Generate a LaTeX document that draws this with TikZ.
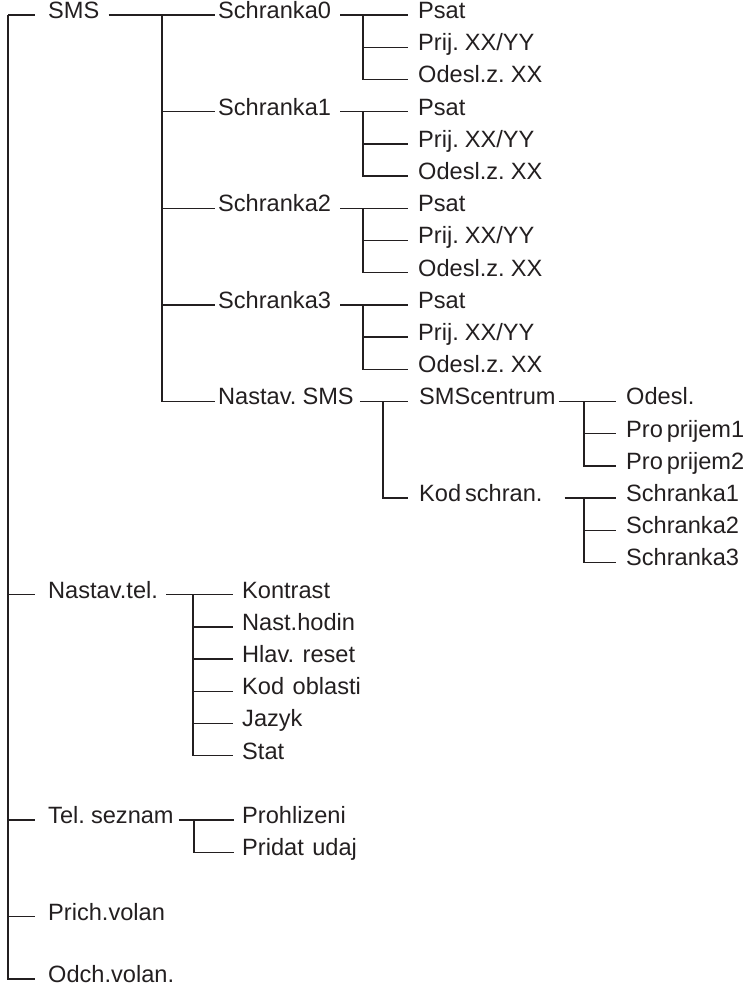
\documentclass[tikz,border=0pt]{standalone}
\usepackage{fontspec}
\setmainfont{Liberation Sans}[WordSpace=0.6]
\usepackage{tikz}
\usetikzlibrary{calc}
\definecolor{ink}{HTML}{231F20}

\tikzset{
  item/.style={anchor=west,inner sep=0pt,text height=0.716em,text depth=0pt,text=ink},
  link/.style={draw=ink,line width=1.4pt}
}
\newcommand{\gap}{\hspace{0.36em}}

\begin{document}
\begin{tikzpicture}[x=1pt,y=-1pt,font=\fontsize{23.6}{28}\selectfont]
  \useasboundingbox (0,0) rectangle (755,994);
  % hlavni menu
  \coordinate (root) at (8,15);
  \node[item] (sms) at (48,15) {SMS};
  \node[item] (nasttel) at (48,{15+32.2*18}) {Nastav.tel.};
  \node[item] (telsez) at (48,{15+32.2*25}) {Tel. seznam};
  \node[item] (prich) at (48,{15+32.2*28}) {Prich.volan};
  \node[item] (odch) at (48,979) {Odch.volan.};
  \draw[link,shorten >=13pt] (root) -- (sms.west);
  \draw[link,shorten >=13pt] (root) |- (odch.west);
  \draw[link,shorten >=13pt] (root |- nasttel.west) -- (nasttel.west);
  \draw[link,shorten >=13pt] (root |- telsez.west) -- (telsez.west);
  \draw[link,shorten >=13pt] (root |- prich.west) -- (prich.west);

  % SMS
  \coordinate (smsfork) at (162,15);
  \node[item] (box0) at (218,15) {Schranka0};
  \node[item] (box1) at (218,{15+32.2*3}) {Schranka1};
  \node[item] (box2) at (218,{15+32.2*6}) {Schranka2};
  \node[item] (box3) at (218,{15+32.2*9}) {Schranka3};
  \node[item] (nsms) at (218,{15+32.2*12}) {Nastav. SMS};
  \draw[link,shorten <=9pt,shorten >=3pt] (sms.east) -- (box0.west);
  \draw[link,shorten >=3pt] (smsfork) |- (nsms.west);
  \draw[link,shorten >=3pt] (smsfork |- box1.west) -- (box1.west);
  \draw[link,shorten >=3pt] (smsfork |- box2.west) -- (box2.west);
  \draw[link,shorten >=3pt] (smsfork |- box3.west) -- (box3.west);

  % Schranka0
  \node[item] (psat0) at (418,15) {Psat};
  \node[item] (prij0) at (418,{15+32.2*1}) {Prij. XX/YY};
  \node[item] (odesl0) at (418,{15+32.2*2}) {Odesl.z. XX};
  \coordinate (fork0) at (363,15);
  \draw[link,shorten <=9pt,shorten >=10pt] (box0.east) -- (psat0.west);
  \draw[link,shorten >=10pt] (fork0) |- (odesl0.west);
  \draw[link,shorten >=10pt] (fork0 |- prij0.west) -- (prij0.west);

  % Schranka1
  \node[item] (psat1) at (418,{15+32.2*3}) {Psat};
  \node[item] (prij1) at (418,{15+32.2*4}) {Prij. XX/YY};
  \node[item] (odesl1) at (418,{15+32.2*5}) {Odesl.z. XX};
  \coordinate (fork1) at (363,{15+32.2*3});
  \draw[link,shorten <=9pt,shorten >=10pt] (box1.east) -- (psat1.west);
  \draw[link,shorten >=10pt] (fork1) |- (odesl1.west);
  \draw[link,shorten >=10pt] (fork1 |- prij1.west) -- (prij1.west);

  % Schranka2
  \node[item] (psat2) at (418,{15+32.2*6}) {Psat};
  \node[item] (prij2) at (418,{15+32.2*7}) {Prij. XX/YY};
  \node[item] (odesl2) at (418,{15+32.2*8}) {Odesl.z. XX};
  \coordinate (fork2) at (363,{15+32.2*6});
  \draw[link,shorten <=9pt,shorten >=10pt] (box2.east) -- (psat2.west);
  \draw[link,shorten >=10pt] (fork2) |- (odesl2.west);
  \draw[link,shorten >=10pt] (fork2 |- prij2.west) -- (prij2.west);

  % Schranka3
  \node[item] (psat3) at (418,{15+32.2*9}) {Psat};
  \node[item] (prij3) at (418,{15+32.2*10}) {Prij. XX/YY};
  \node[item] (odesl3) at (418,{15+32.2*11}) {Odesl.z. XX};
  \coordinate (fork3) at (363,{15+32.2*9});
  \draw[link,shorten <=9pt,shorten >=10pt] (box3.east) -- (psat3.west);
  \draw[link,shorten >=10pt] (fork3) |- (odesl3.west);
  \draw[link,shorten >=10pt] (fork3 |- prij3.west) -- (prij3.west);

  % Nastav. SMS
  \node[item] (smsc) at (419,{15+32.2*12}) {SMScentrum};
  \node[item] (kod) at (419,{15+32.2*15}) {Kod schran.};
  \coordinate (nsmsfork) at (383,{15+32.2*12});
  \draw[link,shorten <=6pt,shorten >=11pt] (nsms.east) -- (smsc.west);
  \draw[link,shorten >=11pt] (nsmsfork) |- (kod.west);

  % SMScentrum
  \node[item] (odsl) at (626,{15+32.2*12}) {Odesl.};
  \node[item] (pro1) at (626,{15+32.2*13}) {Pro prijem1};
  \node[item] (pro2) at (626,{15+32.2*14}) {Pro prijem2};
  \coordinate (smscfork) at (584,{15+32.2*12});
  \draw[link,shorten <=3pt,shorten >=10pt] (smsc.east) -- (odsl.west);
  \draw[link,shorten >=10pt] (smscfork) |- (pro2.west);
  \draw[link,shorten >=10pt] (smscfork |- pro1.west) -- (pro1.west);

  % Kod schran.
  \node[item] (kbox1) at (626,{15+32.2*15}) {Schranka1};
  \node[item] (kbox2) at (626,{15+32.2*16}) {Schranka2};
  \node[item] (kbox3) at (626,{15+32.2*17}) {Schranka3};
  \coordinate (kodfork) at (584,{15+32.2*15});
  \draw[link,shorten <=22pt,shorten >=10pt] (kod.east) -- (kbox1.west);
  \draw[link,shorten >=10pt] (kodfork) |- (kbox3.west);
  \draw[link,shorten >=10pt] (kodfork |- kbox2.west) -- (kbox2.west);

  % Nastav.tel.
  \node[item] (kontr) at (242,{15+32.2*18}) {Kontrast};
  \node[item] (hodin) at (242,{15+32.2*19}) {Nast.hodin};
  \node[item] (reset) at (242,{15+32.2*20}) {Hlav.\gap reset};
  \node[item] (oblast) at (242,{15+32.2*21}) {Kod\gap oblasti};
  \node[item] (jazyk) at (242,{15+32.2*22}) {Jazyk};
  \node[item] (stat) at (242,{15+32.2*23}) {Stat};
  \coordinate (telfork) at (193,{15+32.2*18});
  \draw[link,shorten <=8pt,shorten >=9pt] (nasttel.east) -- (kontr.west);
  \draw[link,shorten >=9pt] (telfork) |- (stat.west);
  \draw[link,shorten >=9pt] (telfork |- hodin.west) -- (hodin.west);
  \draw[link,shorten >=9pt] (telfork |- reset.west) -- (reset.west);
  \draw[link,shorten >=9pt] (telfork |- oblast.west) -- (oblast.west);
  \draw[link,shorten >=9pt] (telfork |- jazyk.west) -- (jazyk.west);

  % Tel. seznam
  \node[item] (prohl) at (242,{15+32.2*25}) {Prohlizeni};
  \node[item] (pridat) at (242,{15+32.2*26}) {Pridat\gap udaj};
  \coordinate (sezfork) at (194,{15+32.2*25});
  \draw[link,shorten <=5pt,shorten >=8pt] (telsez.east) -- (prohl.west);
  \draw[link,shorten >=8pt] (sezfork) |- (pridat.west);
\end{tikzpicture}
\end{document}
